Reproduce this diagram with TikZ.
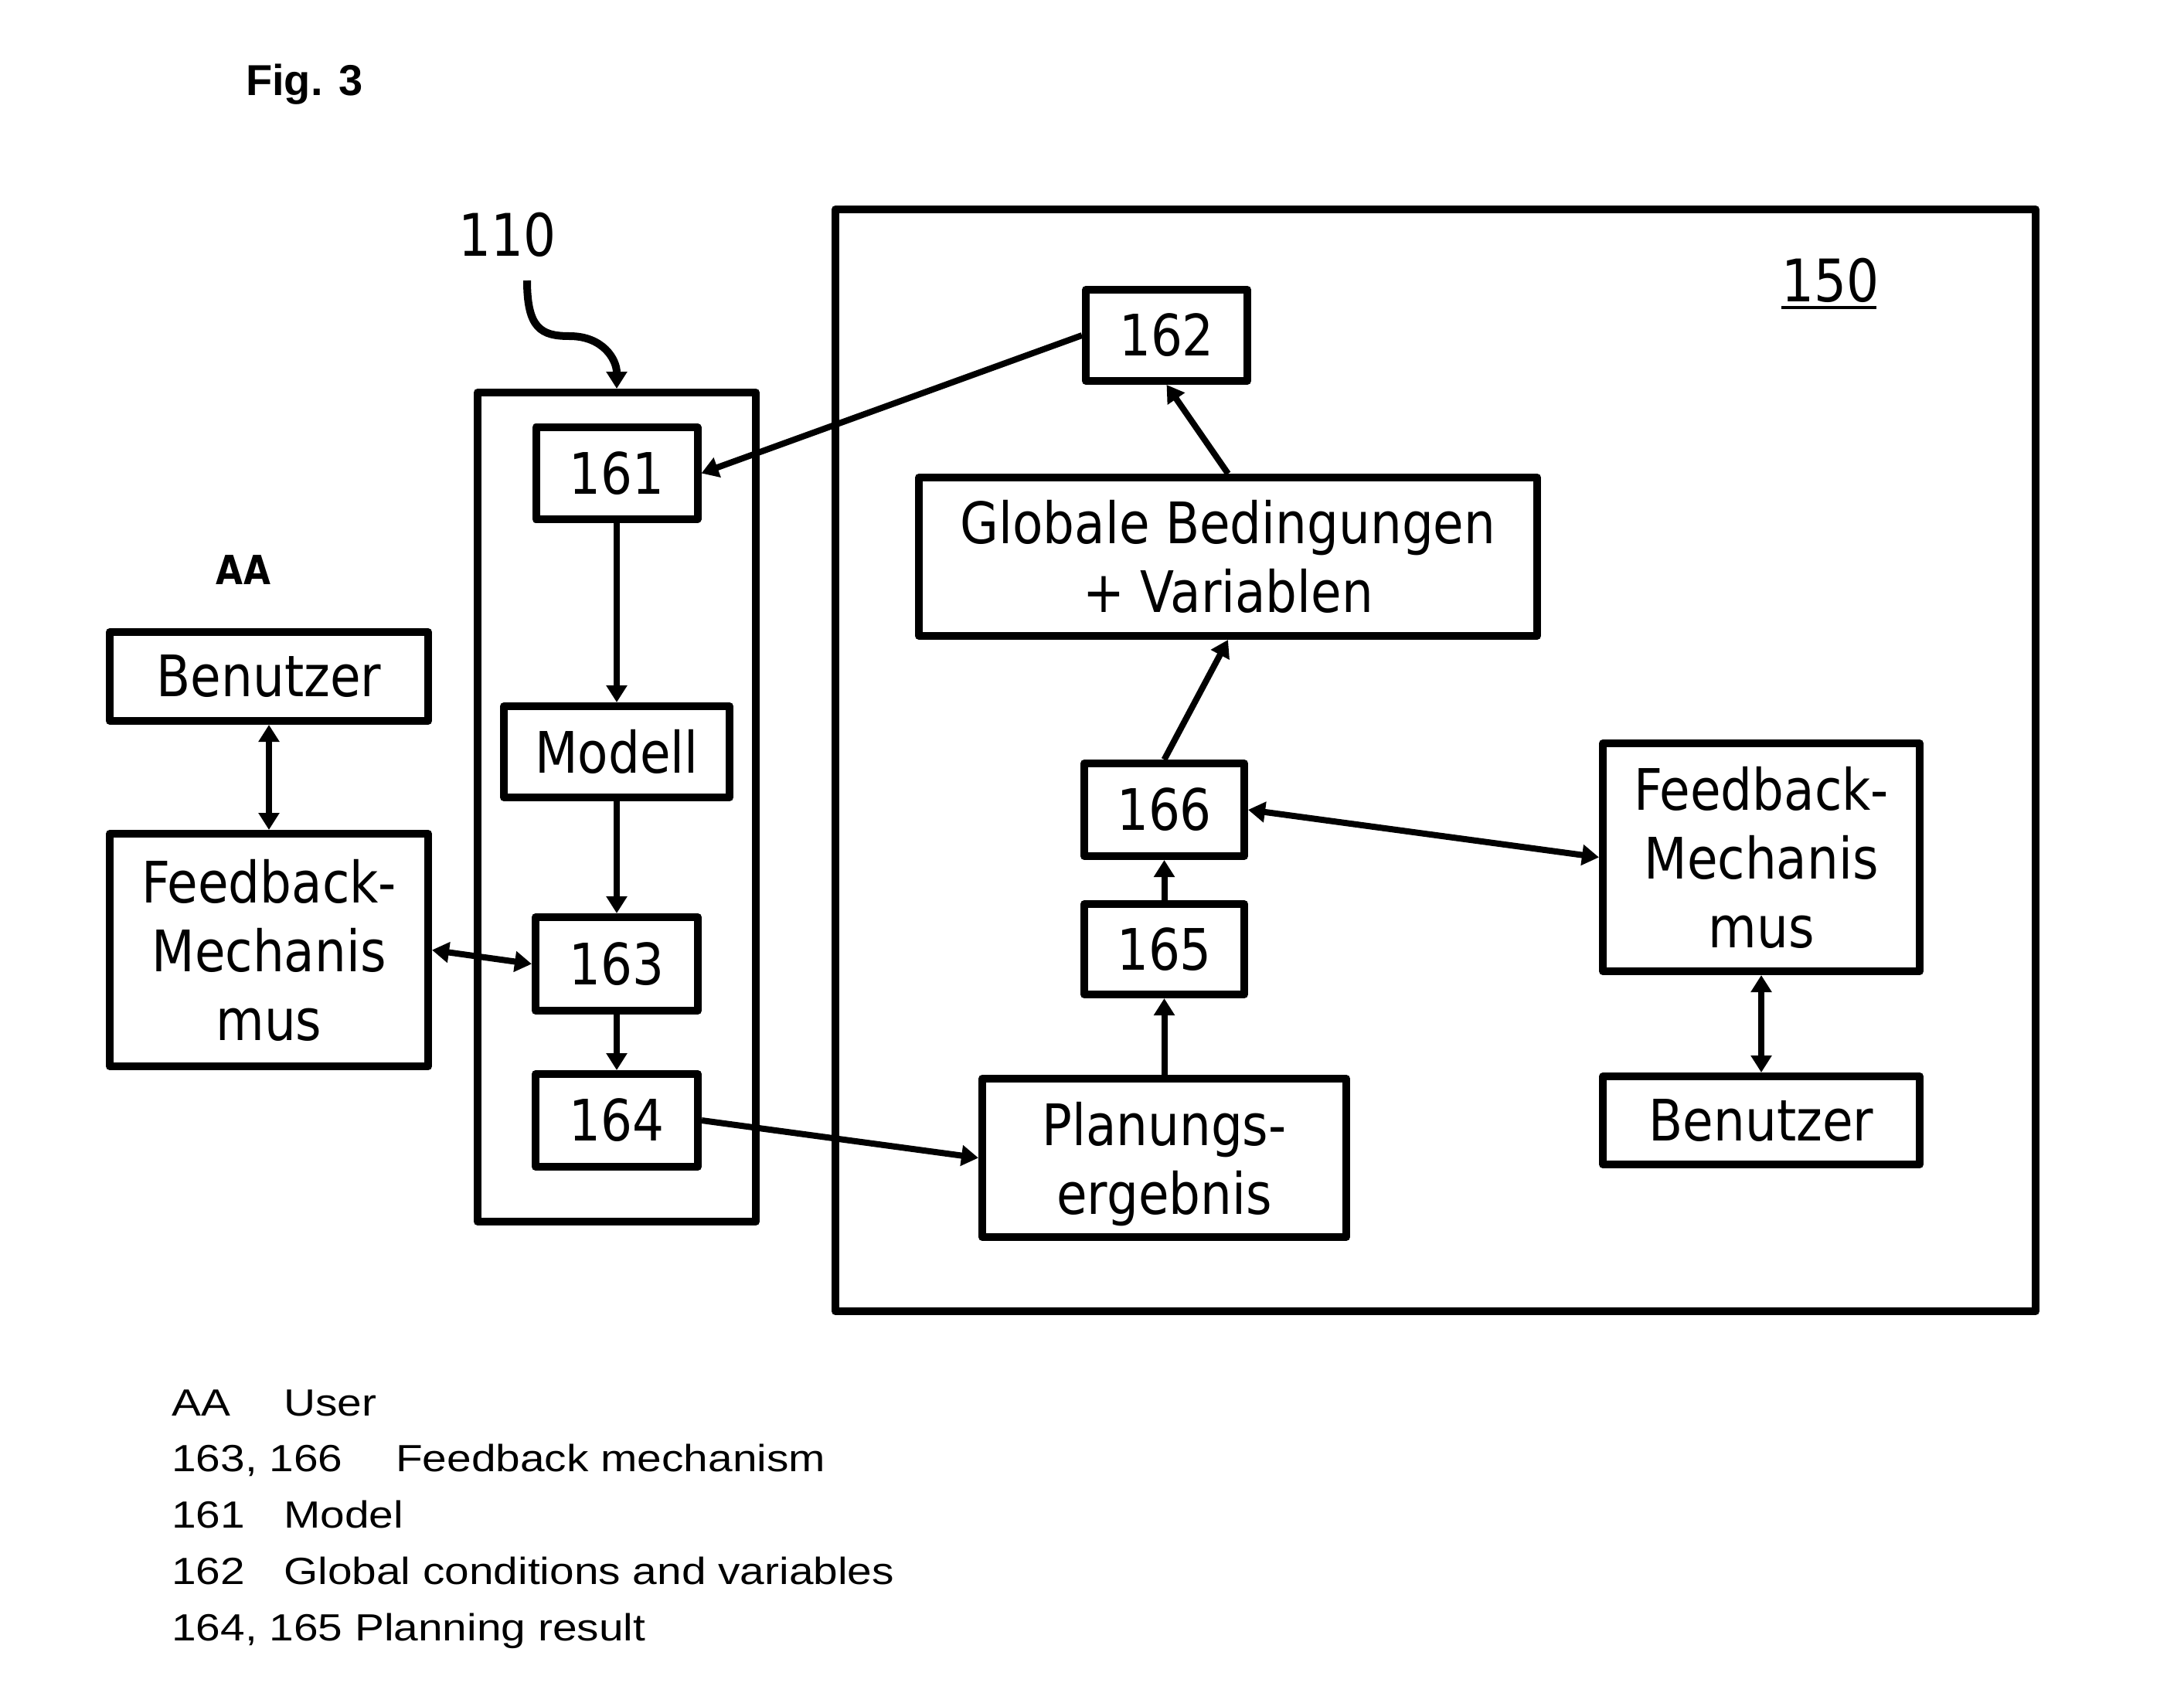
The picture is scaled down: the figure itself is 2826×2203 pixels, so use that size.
\documentclass[tikz,border=0pt]{standalone}
\usepackage{fontspec}
\usetikzlibrary{arrows.meta,calc}
\newfontfamily\dfont[FakeStretch=0.87]{DejaVu Sans}
\newfontfamily\lfont[FakeStretch=1.16]{Liberation Sans}
\newfontfamily\ffont{Liberation Sans}
\begin{document}
\begin{tikzpicture}[x=1pt,y=-1pt,
  box/.style={draw, line width=10pt, line join=round, inner sep=0pt, align=center,
    font={\dfont\fontsize{74}{89}\selectfont}},
  conn/.style={line width=8pt, -{Triangle[length=22pt,width=26pt]}},
  biconn/.style={line width=8pt, {Triangle[length=22pt,width=26pt]}-{Triangle[length=22pt,width=26pt]}},
  leg/.style={anchor=base west, inner sep=0pt, font={\lfont\fontsize{49}{59}\selectfont}},
  lbl/.style={inner sep=0pt, font={\dfont\fontsize{76}{90}\selectfont}}
]
\useasboundingbox (0,0) rectangle (2826,2203);

% title
\node[anchor=base west, inner sep=0pt, font={\ffont\bfseries\fontsize{56}{67}\selectfont}] (fig) at (318,123) {Fig. 3};

% outer frames
\node[box, minimum width=360pt, minimum height=1073pt] (box110) at (798,1044.5) {};
\node[box, minimum width=1553pt, minimum height=1426pt] (box150) at (1857.5,984) {};

% labels
\node[lbl] (l110) at (656.5,303.5) {110};
\node[lbl, anchor=base] (l150) at (2368.5,390) {150};
\draw[line width=4pt] (2305,398) -- (2428,398);
\node[inner sep=0pt, font={\dfont\bfseries\fontsize{52}{62}\selectfont}] (lAA) at (315,738) {AA};

% left user side
\node[box, minimum width=412pt, minimum height=115pt] (benL) at (348,875.5) {Benutzer};
\node[box, minimum width=412pt, minimum height=301pt] (fbL) at (348,1229.5) {Feedback-\\Mechanis\\mus};

% system 110
\node[box, minimum width=209pt, minimum height=119pt] (n161) at (798,612.5) {161};
\node[box, minimum width=292pt, minimum height=118pt] (modell) at (798,973) {Modell};
\node[box, minimum width=210pt, minimum height=121pt] (n163) at (798,1247.5) {163};
\node[box, minimum width=210pt, minimum height=120pt] (n164) at (798,1450) {164};

% system 150
\node[box, minimum width=209pt, minimum height=118pt] (n162) at (1509.5,434) {162};
\node[box, minimum width=800pt, minimum height=205pt] (glob) at (1589,720.5) {Globale Bedingungen\\+ Variablen};
\node[box, minimum width=207pt, minimum height=120pt] (n166) at (1506.5,1048) {166};
\node[box, minimum width=207pt, minimum height=117pt] (n165) at (1506.5,1228.5) {165};
\node[box, minimum width=471pt, minimum height=205pt, text depth=0pt] (plan) at (1506.5,1498.5) {Planungs-\\ergebnis};
\node[box, minimum width=410pt, minimum height=295pt] (fbR) at (2279,1109.5) {Feedback-\\Mechanis\\mus};
\node[box, minimum width=410pt, minimum height=114pt] (benR) at (2279,1450) {Benutzer};

% curly pointer 110
\coordinate (c110) at (682,363);
\draw[line width=10pt, -{Triangle[length=22pt,width=26pt]}]
  (c110) .. controls (682,425) and (700,435) .. (737,435)
         .. controls (780,435) and (798,465) .. (box110.north);

% connectors
\draw[biconn] (benL) -- (fbL);
\draw[biconn] (fbL.east) -- (n163.west);
\draw[conn] (n161) -- (modell);
\draw[conn] (modell) -- (n163);
\draw[conn] (n163) -- (n164);
\draw[conn] (n162.west) -- (n161.east);
\draw[conn] (n164.east) -- (plan.west);
\draw[conn] (plan) -- (n165);
\draw[conn] (n165) -- (n166);
\draw[conn] (n166.north) -- (glob.south);
\draw[conn] (glob.north) -- (n162.south);
\draw[biconn] (n166.east) -- (fbR.west);
\draw[biconn] (fbR) -- (benR);

% legend
\node[leg] (la1) at (222,1832) {AA};
\node[leg] (lb1) at (367,1832) {User};
\node[leg] (la2) at (222,1904) {163, 166};
\node[leg] (lb2) at (512,1904) {Feedback mechanism};
\node[leg] (la3) at (222,1977) {161};
\node[leg] (lb3) at (367,1977) {Model};
\node[leg] (la4) at (222,2050) {162};
\node[leg] (lb4) at (367,2050) {Global conditions and variables};
\node[leg] (la5) at (222,2123) {164, 165 Planning result};
\end{tikzpicture}
\end{document}
